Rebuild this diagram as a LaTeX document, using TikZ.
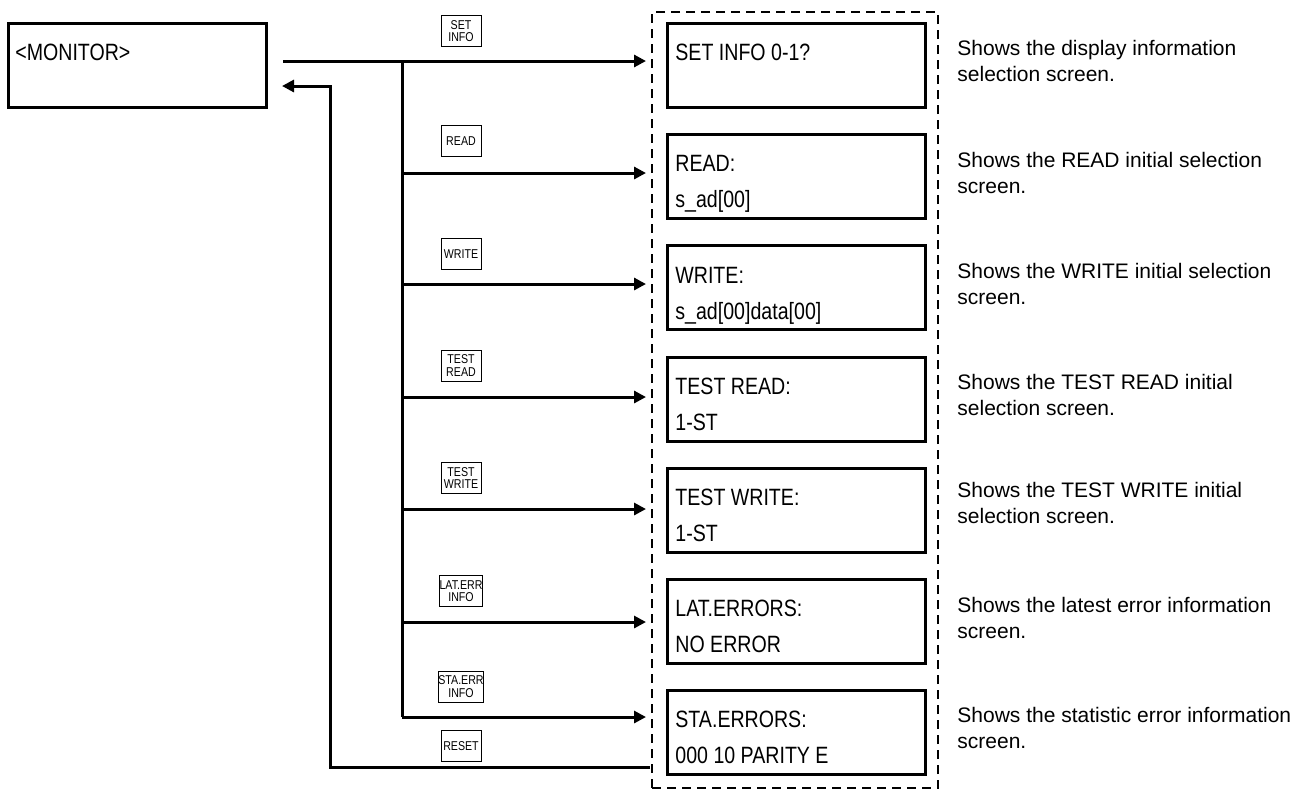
\documentclass[tikz,border=0pt]{standalone}
\usepackage{fontspec}
\setmainfont{Liberation Sans}
\newfontfamily\lcdfont[FakeStretch=0.83]{Liberation Sans}
\usetikzlibrary{arrows.meta}

\tikzset{
    screen/.style={draw, line width=1.5pt, minimum width=129pt, minimum height=42pt, inner sep=0pt},
    lcd/.style={anchor=base west, inner sep=0pt, font=\lcdfont\fontsize{11.8}{14}\selectfont},
    key/.style={draw, line width=0.5pt, minimum width=20pt, minimum height=15.5pt, inner sep=0pt, align=center, font=\lcdfont\fontsize{6.4}{6.2}\selectfont},
    desc/.style={anchor=base west, inner sep=0pt, align=left, font=\fontsize{10.5}{13}\selectfont},
    frame/.style={draw, line width=1pt, dash pattern=on 4.5pt off 3pt, minimum width=143pt, minimum height=388pt, inner sep=0pt},
    flow/.style={line width=1.5pt},
    arr/.style={flow, -{Triangle[length=6pt,width=6pt]}, shorten >=2.5pt},
}

\begin{document}
\begin{tikzpicture}[x=0.5pt, y=-0.5pt]
    \useasboundingbox (0,0) rectangle (1295,789);

    % Monitor and screens
    \node[screen] (mon) at (137.5,65) {};
    \node[lcd] (montxt) at (15,60) {<MONITOR>};

    \node[frame] (frame) at (795,400) {};

    \node[screen] (set) at (796,65) {};
    \node[screen] (read) at (796,176) {};
    \node[screen] (write) at (796,287.5) {};
    \node[screen] (tread) at (796,399) {};
    \node[screen] (twrite) at (796,510) {};
    \node[screen] (lat) at (796,621.5) {};
    \node[screen] (sta) at (796,732) {};

    \node[lcd] (settxt) at (675,60) {SET INFO 0-1?};
    \node[lcd] (readtxt) at (675,171) {READ:};
    \node[lcd] (readval) at (675,207) {s\_ad[00]};
    \node[lcd] (writetxt) at (675,283) {WRITE:};
    \node[lcd] (writeval) at (675,319) {s\_ad[00]data[00]};
    \node[lcd] (treadtxt) at (675,394) {TEST READ:};
    \node[lcd] (treadval) at (675,430) {1-ST};
    \node[lcd] (twritetxt) at (675,505) {TEST WRITE:};
    \node[lcd] (twriteval) at (675,541) {1-ST};
    \node[lcd] (lattxt) at (675,616) {LAT.ERRORS:};
    \node[lcd] (latval) at (675,652) {NO ERROR};
    \node[lcd] (statxt) at (675,727) {STA.ERRORS:};
    \node[lcd] (staval) at (675,763) {000 10 PARITY E};

    % Keys
    \node[key] (kset) at (461,31) {SET\\INFO};
    \node[key] (kread) at (461,141) {READ};
    \node[key] (kwrite) at (461,254) {WRITE};
    \node[key] (ktread) at (461,365.5) {TEST\\READ};
    \node[key] (ktwrite) at (461,478) {TEST\\WRITE};
    \node[key] (klat) at (461,591) {LAT.ERR\\INFO};
    \node[key] (ksta) at (461,686.5) {STA.ERR\\INFO};
    \node[key] (krst) at (461,746) {RESET};

    % Descriptions
    \node[desc] (dset) at (957,81) {Shows the display information\\selection screen.};
    \node[desc] (dread) at (957,193) {Shows the READ initial selection\\screen.};
    \node[desc] (dwrite) at (957,304) {Shows the WRITE initial selection\\screen.};
    \node[desc] (dtread) at (957,415) {Shows the TEST READ initial\\selection screen.};
    \node[desc] (dtwrite) at (957,523) {Shows the TEST WRITE initial\\selection screen.};
    \node[desc] (dlat) at (957,638) {Shows the latest error information\\screen.};
    \node[desc] (dsta) at (957,748) {Shows the statistic error information\\screen.};

    % Connectors
    \coordinate (mout) at (283,61);
    \coordinate (min) at (282,86);
    \coordinate (b1) at (402,61);
    \coordinate (b2) at (402,173);
    \coordinate (b3) at (402,284);
    \coordinate (b4) at (402,397);
    \coordinate (b5) at (402,509);
    \coordinate (b6) at (402,622);
    \coordinate (b7) at (402,717);
    \coordinate (rst) at (650,767);

    \draw[arr] (mout) -- (mout -| frame.west);
    \draw[flow] (b1) -- (b7);
    \draw[arr] (b2) -- (b2 -| frame.west);
    \draw[arr] (b3) -- (b3 -| frame.west);
    \draw[arr] (b4) -- (b4 -| frame.west);
    \draw[arr] (b5) -- (b5 -| frame.west);
    \draw[arr] (b6) -- (b6 -| frame.west);
    \draw[arr] (b7) -- (b7 -| frame.west);
    \draw[flow, -{Triangle[length=6pt,width=6pt]}] (rst) -- (330,767) |- (min);
\end{tikzpicture}
\end{document}
